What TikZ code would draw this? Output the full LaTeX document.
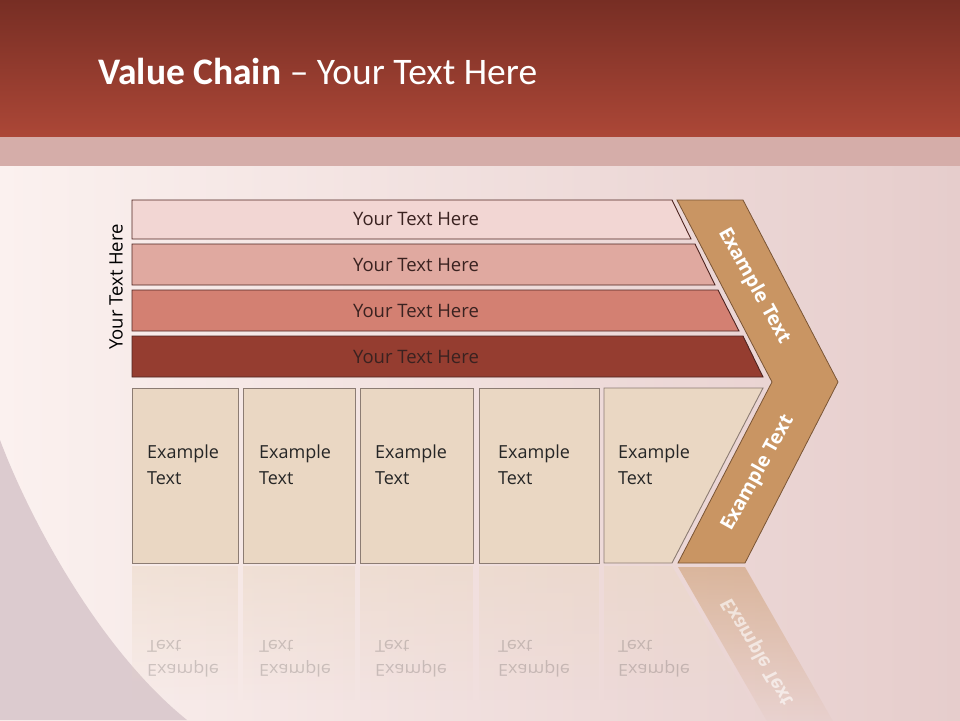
\documentclass[tikz,border=0pt]{standalone}
\usepackage{fontspec}
\setmainfont{Open Sans}
\newfontfamily\titlefont{Carlito}
\usetikzlibrary{positioning, fadings}

\definecolor{headtop}{HTML}{772E24}
\definecolor{headbot}{HTML}{AC4737}
\definecolor{band}{HTML}{D5ADA9}
\definecolor{bgleft}{HTML}{FBF1EF}
\definecolor{bgright}{HTML}{E6CDCC}
\definecolor{bglav}{HTML}{DCCBCF}
\definecolor{barline}{HTML}{4E2420}
\definecolor{barA}{HTML}{F2D6D3}
\definecolor{barB}{HTML}{E0A9A0}
\definecolor{barC}{HTML}{D38072}
\definecolor{barD}{HTML}{953D30}
\definecolor{bartxt}{HTML}{3A2220}
\definecolor{boxfill}{HTML}{EAD7C3}
\definecolor{boxline}{HTML}{8C7C73}
\definecolor{chevfill}{HTML}{C99563}
\definecolor{chevline}{HTML}{7A5535}

\tikzfading[name=reflfade, top color=transparent!50, bottom color=transparent!100]

\begin{document}
\begin{tikzpicture}[x=1pt, y=-1pt, node distance=5pt,
  bar/.style={draw=barline, line width=0.9pt},
  boxshape/.style={draw=boxline, fill=boxfill, line width=0.9pt},
  boxx/.style={boxshape, rectangle, minimum height=175pt, inner sep=0pt, outer sep=0pt, anchor=north west},
  bartext/.style={font=\fontsize{18.5}{20}\selectfont, text=bartxt},
  boxtext/.style={font=\fontsize{18}{26}\selectfont, align=left, anchor=west, inner sep=0pt, text=black!85},
  chevtext/.style={font=\bfseries\fontsize{19.5}{20}\selectfont, text=white},
  refl/.style={fill=boxfill, path fading=reflfade}]
\useasboundingbox (0,0) rectangle (960,720);

% background
\fill[top color=headtop, bottom color=headbot] (0,0) rectangle (960,137);
\fill[band] (0,137) rectangle (960,166);
\fill[left color=bgleft, right color=bgright] (0,166) rectangle (960,720);
\fill[bglav] (0,440) .. controls (30,520) and (100,650) .. (187,720) -- (0,720) -- cycle;

% title
\node[anchor=base west, inner sep=0pt, text=white, font=\titlefont\fontsize{37.5}{40}\selectfont] (title) at (98,84) {\textbf{Value Chain} – Your Text Here};

% bars
\fill[barA, bar] (132,200) -- (672,200) -- (691,239) -- (132,239) -- cycle;
\fill[barB, bar] (132,244) -- (695,244) -- (715,285) -- (132,285) -- cycle;
\fill[barC, bar] (132,290) -- (718,290) -- (739,331) -- (132,331) -- cycle;
\fill[barD, bar] (132,336) -- (743,336) -- (763,377) -- (132,377) -- cycle;
\node[bartext] (bt1) at (416,219) {Your Text Here};
\node[bartext] (bt2) at (416,265) {Your Text Here};
\node[bartext] (bt3) at (416,311) {Your Text Here};
\node[bartext] (bt4) at (416,357) {Your Text Here};
\node[rotate=90, font=\fontsize{18.5}{20}\selectfont] (side) at (116,287) {Your Text Here};

% chevron
\coordinate (c1) at (677,200);
\coordinate (c2) at (743,200);
\coordinate (c3) at (838,382);
\coordinate (c4) at (745,563);
\coordinate (c5) at (678,563);
\coordinate (c6) at (772,382);
\fill[chevfill, draw=chevline, line width=0.8pt] (c1) -- (c2) -- (c3) -- (c4) -- (c5) -- (c6) -- cycle;
\node[chevtext, rotate=-61] (ch1) at (754,286) {Example Text};
\node[chevtext, rotate=61] (ch2) at (758,473) {Example Text};

% boxes
\node[boxx, minimum width=106pt] (box1) at (132,388) {};
\node[boxx, minimum width=112pt, right=5pt of box1] (box2) {};
\node[boxx, minimum width=113pt, right=5pt of box2] (box3) {};
\node[boxx, minimum width=120pt, right=6pt of box3] (box4) {};
\coordinate (b5a) at (604,388);
\coordinate (b5b) at (763,388);
\coordinate (b5c) at (672,563);
\coordinate (b5d) at (604,563);
\draw[boxshape] (b5a) -- (b5b) -- (b5c) -- (b5d) -- cycle;
\node[boxtext] (t1) at (147,465) {Example\\Text};
\node[boxtext] (t2) at (259,465) {Example\\Text};
\node[boxtext] (t3) at (375,465) {Example\\Text};
\node[boxtext] (t4) at (498,465) {Example\\Text};
\node[boxtext] (t5) at (618,465) {Example\\Text};

% reflection
\fill[refl] (132,566) rectangle (238,700);
\fill[refl] (243,566) rectangle (355,700);
\fill[refl] (360,566) rectangle (473,700);
\fill[refl] (479,566) rectangle (599,700);
\fill[refl] (604,566) -- (672,566) -- (750,700) -- (604,700) -- cycle;
\fill[refl, fill=chevfill] (678,567) -- (745,567) -- (838,730) -- (772,730) -- cycle;
\begin{scope}[shift={(0,566)}, yscale=-0.92, shift={(0,-566)}, transform shape, opacity=0.2]
  \node[boxtext] (r1) at (147,465) {Example\\Text};
  \node[boxtext] (r2) at (259,465) {Example\\Text};
  \node[boxtext] (r3) at (375,465) {Example\\Text};
  \node[boxtext] (r4) at (498,465) {Example\\Text};
  \node[boxtext] (r5) at (618,465) {Example\\Text};
  \node[chevtext, rotate=61, opacity=0.6] (rch) at (758,473) {Example Text};
\end{scope}
\end{tikzpicture}
\end{document}
